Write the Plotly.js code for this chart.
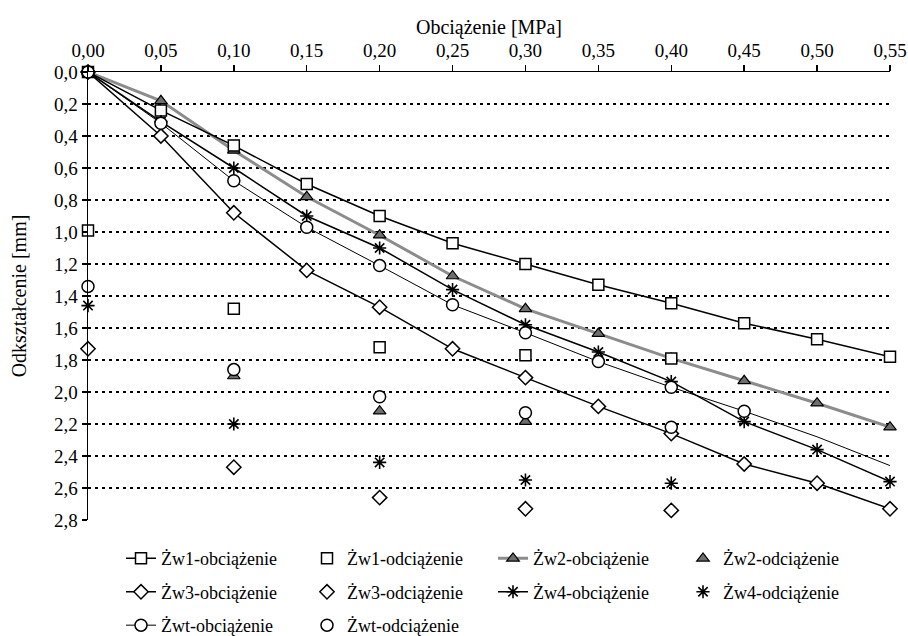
<!DOCTYPE html>
<html>
<head>
<meta charset="utf-8">
<script src="https://cdn.plot.ly/plotly-3.0.1.min.js"></script>
<style>html,body{margin:0;padding:0;background:#fff;}#chart{width:908px;height:636px;}</style>
</head>
<body>
<div id="chart"></div>
<script>
// Load steps (MPa)
const loadX = [0, 0.05, 0.10, 0.15, 0.20, 0.25, 0.30, 0.35, 0.40, 0.45, 0.50, 0.55];
const unloadX = [0, 0.10, 0.20, 0.30, 0.40];

// Loading curves (mm)
const zw1Load = [0, 0.24, 0.46, 0.70, 0.90, 1.07, 1.20, 1.33, 1.445, 1.57, 1.67, 1.78];
const zw2Load = [0, 0.18, 0.49, 0.78, 1.02, 1.275, 1.48, 1.635, 1.79, 1.93, 2.07, 2.22];
const zw3Load = [0, 0.40, 0.88, 1.24, 1.47, 1.73, 1.91, 2.09, 2.26, 2.45, 2.57, 2.73];
const zw4Load = [0, 0.31, 0.60, 0.90, 1.10, 1.36, 1.58, 1.75, 1.935, 2.185, 2.36, 2.56];
const zwtLoad = [0, 0.32, 0.68, 0.97, 1.21, 1.455, 1.63, 1.81, 1.97, 2.12, 2.28, 2.46];
const zwtMarkedCount = 10; // Żwt has markers up to 0.45 MPa only

// Unloading points (mm)
const zw1Unload = [0.99, 1.48, 1.72, 1.77, 1.79];
const zw2Unload = [null, 1.90, 2.12, 2.185, null];
const zw3Unload = [1.73, 2.47, 2.66, 2.73, 2.74];
const zw4Unload = [1.46, 2.20, 2.44, 2.55, 2.57];
const zwtUnload = [1.34, 1.86, 2.03, 2.13, 2.22];

const names = {
  zw1L: 'Żw1-obciążenie', zw1U: 'Żw1-odciążenie',
  zw2L: 'Żw2-obciążenie', zw2U: 'Żw2-odciążenie',
  zw3L: 'Żw3-obciążenie', zw3U: 'Żw3-odciążenie',
  zw4L: 'Żw4-obciążenie', zw4U: 'Żw4-odciążenie',
  zwtL: 'Żwt-obciążenie', zwtU: 'Żwt-odciążenie'
};

const FONT = 'Times New Roman';
const sq = {symbol: 'square', size: 11, color: '#fff', line: {color: '#000', width: 1.5}};
const tri = {symbol: 'triangle-up', size: 11, color: '#6e6e6e', line: {color: '#000', width: 1.2}};
const dia = {symbol: 'diamond', size: 11, color: '#fff', line: {color: '#000', width: 1.5}};
const ast = {symbol: 'asterisk-open', size: 11, color: '#000', line: {color: '#000', width: 1.6}};
const cir = {symbol: 'circle', size: 12, color: '#fff', line: {color: '#000', width: 1.5}};

function tr(x, y, name, mode, marker, line, legend, group) {
  const t = {x: x, y: y, name: name, mode: mode, type: 'scatter',
             legend: legend, legendgroup: group, cliponaxis: false};
  if (marker) t.marker = marker;
  if (line) t.line = line;
  return t;
}

const tail = tr(loadX.slice(zwtMarkedCount - 1), zwtLoad.slice(zwtMarkedCount - 1), names.zwtL,
  'lines', null, {color: '#000', width: 1}, 'legend', 'e');
tail.showlegend = false;

const data = [
  tr(loadX, zw2Load, names.zw2L, 'lines+markers', tri, {color: '#8c8c8c', width: 3}, 'legend3', 'a'),
  tr(loadX, zw1Load, names.zw1L, 'lines+markers', sq, {color: '#000', width: 1.5}, 'legend', 'b'),
  tr(loadX, zw3Load, names.zw3L, 'lines+markers', dia, {color: '#000', width: 1.5}, 'legend', 'c'),
  tr(loadX, zw4Load, names.zw4L, 'lines+markers', ast, {color: '#000', width: 1.5}, 'legend3', 'd'),
  tail,
  tr(loadX.slice(0, zwtMarkedCount), zwtLoad.slice(0, zwtMarkedCount), names.zwtL, 'lines+markers', cir, {color: '#000', width: 1}, 'legend', 'e'),
  tr(unloadX, zw1Unload, names.zw1U, 'markers', sq, null, 'legend2', 'f'),
  tr(unloadX, zw2Unload, names.zw2U, 'markers', tri, null, 'legend4', 'g'),
  tr(unloadX, zw3Unload, names.zw3U, 'markers', dia, null, 'legend2', 'h'),
  tr(unloadX, zw4Unload, names.zw4U, 'markers', ast, null, 'legend4', 'i'),
  tr(unloadX, zwtUnload, names.zwtU, 'markers', cir, null, 'legend2', 'j')
];

const legBase = {orientation: 'v', yanchor: 'top', xanchor: 'left', traceorder: 'grouped',
  tracegroupgap: 7, font: {family: FONT, size: 18, color: '#000'}, bgcolor: 'rgba(0,0,0,0)',
  itemclick: false, itemdoubleclick: false};
const ly = -0.045;
const px = v => (v - 88) / 802;
const layout = {
  width: 908, height: 636,
  margin: {l: 88, r: 18, t: 72, b: 116, autoexpand: false},
  paper_bgcolor: '#fff', plot_bgcolor: '#fff',
  separators: ', ',
  font: {family: FONT, size: 19, color: '#000'},
  showlegend: true,
  xaxis: {
    side: 'top', range: [0, 0.55], dtick: 0.05, tick0: 0, tickformat: '.2f',
    showline: true, linecolor: '#000', linewidth: 1.5, ticks: 'outside', ticklen: 6,
    tickcolor: '#000', tickwidth: 1.5, showgrid: false, zeroline: false,
    tickfont: {family: FONT, size: 19, color: '#000'},
    title: {text: 'Obciążenie [MPa]', font: {family: FONT, size: 20, color: '#000'}, standoff: 0}
  },
  yaxis: {
    range: [2.8, 0], dtick: 0.2, tick0: 0, tickformat: '.1f',
    showline: true, linecolor: '#000', linewidth: 1.5, ticks: 'outside', ticklen: 5,
    tickcolor: '#000', tickwidth: 1.5, showgrid: true, gridcolor: '#000', gridwidth: 1.5,
    griddash: '3px,4px', zeroline: false,
    tickfont: {family: FONT, size: 19, color: '#000'},
    title: {text: 'Odkształcenie [mm]', font: {family: FONT, size: 20, color: '#000'}, standoff: 22}
  },
  legend: Object.assign({}, legBase, {x: px(121), y: ly}),
  legend2: Object.assign({}, legBase, {x: px(307), y: ly}),
  legend3: Object.assign({}, legBase, {x: px(493), y: ly}),
  legend4: Object.assign({}, legBase, {x: px(683), y: ly})
};

Plotly.newPlot('chart', data, layout, {displayModeBar: false, staticPlot: true});
</script>
</body>
</html>
